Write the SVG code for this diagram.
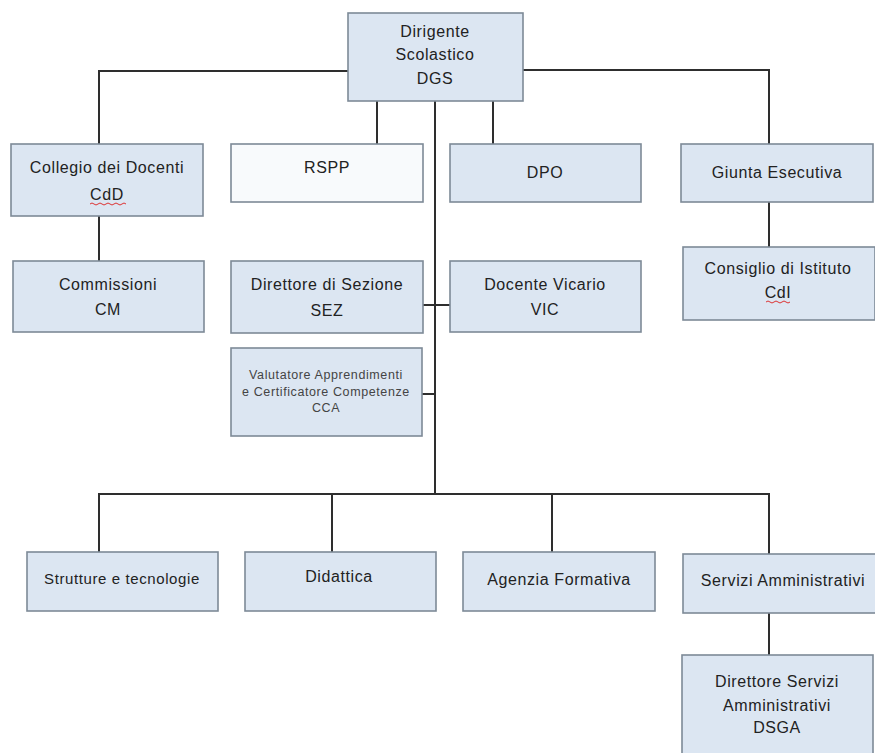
<svg xmlns="http://www.w3.org/2000/svg" width="875" height="753" viewBox="0 0 875 753">
<style>
.box{fill:#dce6f2;stroke:#7d8a97;stroke-width:1.6}
.white{fill:#f8fafc}
.t{font-family:"Liberation Sans","Open Sans",Arial,sans-serif;font-size:16px;letter-spacing:0.6px;fill:#222;text-anchor:middle}
.s{font-size:12.5px;fill:#444}
.c{fill:none;stroke:#2e2e2e;stroke-width:2}
.sq{fill:none;stroke:#d33;stroke-width:1}
</style>
<rect width="875" height="753" fill="#ffffff"/>
<g id="connectors">
<path class="c" d="M348 71 H99 V144"/>
<path class="c" d="M523 70 H769 V144"/>
<path class="c" d="M377 101 V144"/>
<path class="c" d="M493 101 V144"/>
<path class="c" d="M435 101 V494"/>
<path class="c" d="M99 216 V261"/>
<path class="c" d="M769 202 V247"/>
<path class="c" d="M423 305 H450"/>
<path class="c" d="M422 394 H435"/>
<path class="c" d="M99 552 V494 H769 V554"/>
<path class="c" d="M332 494 V552"/>
<path class="c" d="M552 494 V552"/>
<path class="c" d="M769 613 V655"/>
</g>
<g id="dgs"><rect class="box" x="348" y="13" width="175" height="88"/>
<text class="t" x="435" y="37">Dirigente</text><text class="t" x="435" y="60">Scolastico</text><text class="t" x="435" y="84">DGS</text></g>
<g id="cdd"><rect class="box" x="11" y="144" width="192" height="72"/>
<text class="t" x="107" y="173">Collegio dei Docenti</text><text class="t" x="107" y="200">CdD</text>
<path class="sq" d="M90 204 q2 -2 4 0 t4 0 t4 0 t4 0 t4 0 t4 0 t4 0 t4 0 t4 0"/></g>
<g id="rspp"><rect class="box white" x="231" y="144" width="192" height="58"/>
<text class="t" x="327" y="173">RSPP</text></g>
<g id="dpo"><rect class="box" x="450" y="144" width="191" height="58"/>
<text class="t" x="545" y="178">DPO</text></g>
<g id="giunta"><rect class="box" x="681" y="144" width="192" height="58"/>
<text class="t" x="777" y="178">Giunta Esecutiva</text></g>
<g id="cm"><rect class="box" x="13" y="261" width="191" height="71"/>
<text class="t" x="108" y="290">Commissioni</text><text class="t" x="108" y="315">CM</text></g>
<g id="sez"><rect class="box" x="231" y="261" width="192" height="72"/>
<text class="t" x="327" y="290">Direttore di Sezione</text><text class="t" x="327" y="316">SEZ</text></g>
<g id="vic"><rect class="box" x="450" y="261" width="191" height="71"/>
<text class="t" x="545" y="290">Docente Vicario</text><text class="t" x="545" y="315">VIC</text></g>
<g id="cdi"><rect class="box" x="683" y="247" width="192" height="73"/>
<text class="t" x="778" y="274">Consiglio di Istituto</text><text class="t" x="778" y="298">CdI</text>
<path class="sq" d="M766 302 q2 -2 4 0 t4 0 t4 0 t4 0 t4 0 t4 0"/></g>
<g id="cca"><rect class="box" x="231" y="348" width="191" height="88"/>
<text class="t s" x="326" y="379">Valutatore Apprendimenti</text><text class="t s" x="326" y="396">e Certificatore Competenze</text><text class="t s" x="326" y="412">CCA</text></g>
<g id="strutture"><rect class="box" x="27" y="552" width="191" height="59"/>
<text class="t" x="122" y="584" style="font-size:15px">Strutture e tecnologie</text></g>
<g id="didattica"><rect class="box" x="245" y="552" width="191" height="59"/>
<text class="t" x="339" y="582">Didattica</text></g>
<g id="agenzia"><rect class="box" x="463" y="552" width="192" height="59"/>
<text class="t" x="559" y="585">Agenzia Formativa</text></g>
<g id="servizi"><rect class="box" x="683" y="554" width="200" height="59"/>
<text class="t" x="783" y="586">Servizi Amministrativi</text></g>
<g id="dsga"><rect class="box" x="682" y="655" width="191" height="110"/>
<text class="t" x="777" y="687">Direttore Servizi</text><text class="t" x="777" y="711">Amministrativi</text><text class="t" x="777" y="733">DSGA</text></g>
</svg>
